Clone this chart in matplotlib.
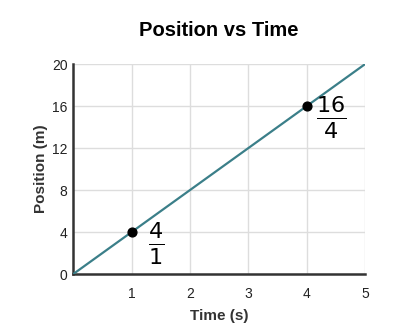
import matplotlib.pyplot as plt
import numpy as np

plt.rcParams['font.family'] = ['Liberation Sans', 'DejaVu Sans']

# Data for the position-time graph
times = [0, 5]
positions = [0, 20]
marked_times = [1, 4]
marked_positions = [4, 16]
x_ticks = [1, 2, 3, 4, 5]
y_ticks = [0, 4, 8, 12, 16, 20]

fig = plt.figure(figsize=(4.02, 3.24), dpi=100)
ax = fig.add_axes([0.182, 0.154, 0.726, 0.648])

ax.plot(times, positions, color='#3b7f89', linewidth=1.6, zorder=3)
ax.scatter(marked_times, marked_positions, s=40, color='black', zorder=4)

ax.set_xlim(0, 5)
ax.set_ylim(0, 20)
ax.set_xticks(x_ticks)
ax.set_yticks(y_ticks)
ax.tick_params(length=0, labelsize=10, colors='#222222')
ax.tick_params(axis='x', pad=9)
ax.tick_params(axis='y', pad=4)
ax.grid(color='#dddddd', linewidth=1)
ax.set_axisbelow(True)

for side in ['top', 'right']:
    ax.spines[side].set_visible(False)
for side in ['left', 'bottom']:
    ax.spines[side].set_color('#333333')
    ax.spines[side].set_linewidth(1.8)

ax.set_title('Position vs Time', fontsize=14.5, fontweight='bold', pad=20)
ax.set_xlabel('Time (s)', fontsize=11, fontweight='bold', color='#333333', labelpad=6)
ax.set_ylabel('Position (m)', fontsize=11, fontweight='bold', color='#333333', labelpad=3)

# slope notes next to the marked points
for t, p in zip(marked_times, marked_positions):
    ax.text(t + 0.42, p - 1.15, r'$\frac{%d}{%d}$' % (p, t), fontsize=23,
            ha='center', va='center', color='black')

fig.savefig('out.png', dpi=100)
